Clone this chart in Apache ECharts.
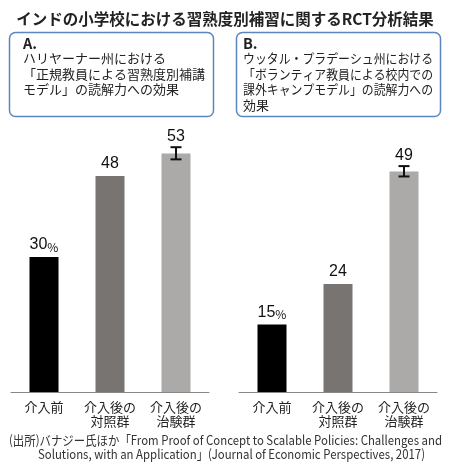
<!DOCTYPE html>
<html><head><meta charset="utf-8">
<script src="https://cdn.jsdelivr.net/npm/echarts@6/dist/echarts.min.js"></script>
<style>html,body{margin:0;padding:0;background:#fff}#c{width:450px;height:468px}</style>
</head><body><div id="c"></div>
<script>
const categories = ['介入前', '介入後の\n対照群', '介入後の\n治験群'];
const valuesA = [30, 48, 53];
const valuesB = [15, 24, 49];
const errA = [2, 51.7, 54.4];   // [category index, low, high]
const errB = [2, 47.9, 50.2];
const barColors = ['#000000', '#787471', '#abaaa8'];
const titleText = 'インドの小学校における習熟度別補習に関するRCT分析結果';
const panelA = ['A.', 'ハリヤーナー州における', '「正規教員による習熟度別補講', 'モデル」の読解力への効果'];
const panelB = ['B.', 'ウッタル・プラデーシュ州における', '「ボランティア教員による校内での', '課外キャンプモデル」の読解力への', '効果'];
const sourceLines = ['(出所)バナジー氏ほか「From Proof of Concept to Scalable Policies: Challenges and', 'Solutions, with an Application」(Journal of Economic Perspectives, 2017)'];

const FF = '"Noto Sans CJK JP", "Noto Sans", sans-serif';
const NUMF = '"Liberation Sans", Arial, sans-serif';
const YMAX = 60, GRID_H = 270, PX = GRID_H / YMAX;

const mctx = document.createElement('canvas').getContext('2d');
function fitScale(text, size, weight, target) {
  mctx.font = weight + ' ' + size + 'px ' + FF;
  const w = mctx.measureText(text).width;
  return Math.min(1, target / w);
}

const chart = echarts.init(document.getElementById('c'));

function barData(vals, err) {
  return vals.map((v, i) => {
    const d = { value: v, itemStyle: { color: barColors[i] } };
    if (err && err[0] === i) d.label = { distance: (err[2] - v) * PX + 3 };
    return d;
  });
}
function valLabel() {
  return {
    show: true, position: 'top', distance: 4,
    fontFamily: NUMF, fontSize: 16, color: '#111',
    formatter: p => p.dataIndex === 0 ? p.value + '{p|%}' : String(p.value),
    rich: { p: { fontFamily: FF, fontSize: 12, color: '#111', verticalAlign: 'bottom' } }
  };
}
function errRender(params, api) {
  const x = api.value(0);
  const lo = api.coord([x, api.value(1)]);
  const hi = api.coord([x, api.value(2)]);
  const w = 5.5;
  const st = { stroke: '#111', lineWidth: 2 };
  return { type: 'group', children: [
    { type: 'line', shape: { x1: lo[0], y1: lo[1], x2: hi[0], y2: hi[1] }, style: st },
    { type: 'line', shape: { x1: lo[0] - w, y1: lo[1], x2: lo[0] + w, y2: lo[1] }, style: st },
    { type: 'line', shape: { x1: hi[0] - w, y1: hi[1], x2: hi[0] + w, y2: hi[1] }, style: st }
  ]};
}
function xAx(gi) {
  return {
    type: 'category', gridIndex: gi, data: categories,
    axisLine: { lineStyle: { color: '#888', width: 1 } },
    axisTick: { show: false },
    axisLabel: { fontFamily: FF, fontSize: 13, color: '#222', lineHeight: 14, margin: 8, interval: 0 }
  };
}
function yAx(gi) {
  return { type: 'value', gridIndex: gi, min: 0, max: YMAX, show: false, splitLine: { show: false } };
}
function boxText(lines, x, target) {
  return lines.map((t, i) => {
    const size = i === 0 ? 14.5 : 13;
    const weight = i === 0 ? 'bold' : 'normal';
    return {
      type: 'text', x: x, y: 43 + 15.5 * i, scaleX: i === 0 ? 1 : fitScale(t, size, weight, target),
      style: { text: t, fontFamily: FF, fontSize: size, fontWeight: weight, fill: '#222', verticalAlign: 'middle', align: 'left' }
    };
  });
}

chart.setOption({
  animation: false,
  title: { text: titleText, left: 'center', top: 6,
    textStyle: { fontFamily: FF, fontSize: 15.5, fontWeight: 'bold', color: '#222' } },
  grid: [
    { left: 11, width: 198, top: 122, bottom: 76 },
    { left: 239, width: 198, top: 122, bottom: 76 }
  ],
  xAxis: [xAx(0), xAx(1)],
  yAxis: [yAx(0), yAx(1)],
  series: [
    { type: 'bar', xAxisIndex: 0, yAxisIndex: 0, barWidth: 29, data: barData(valuesA, errA), label: valLabel() },
    { type: 'bar', xAxisIndex: 1, yAxisIndex: 1, barWidth: 29, data: barData(valuesB, errB), label: valLabel() },
    { type: 'custom', xAxisIndex: 0, yAxisIndex: 0, renderItem: errRender, data: [errA], z: 5 },
    { type: 'custom', xAxisIndex: 1, yAxisIndex: 1, renderItem: errRender, data: [errB], z: 5 }
  ],
  graphic: [
    { type: 'rect', shape: { x: 9.5, y: 32.5, width: 204, height: 84, r: 6 }, style: { fill: 'none', stroke: '#5b86c0', lineWidth: 1.5 } },
    { type: 'rect', shape: { x: 236.5, y: 32.5, width: 204, height: 84, r: 6 }, style: { fill: 'none', stroke: '#5b86c0', lineWidth: 1.5 } },
    ...boxText(panelA, 23, 182),
    ...boxText(panelB, 243, 190),
    { type: 'text', x: 9, y: 440, scaleX: fitScale(sourceLines[0], 13, 'normal', 433),
      style: { text: sourceLines[0], fontFamily: FF, fontSize: 13, fill: '#333', verticalAlign: 'middle', align: 'left' } },
    { type: 'text', x: 38, y: 454, scaleX: fitScale(sourceLines[1], 13, 'normal', 387),
      style: { text: sourceLines[1], fontFamily: FF, fontSize: 13, fill: '#333', verticalAlign: 'middle', align: 'left' } }
  ]
});
</script></body></html>
